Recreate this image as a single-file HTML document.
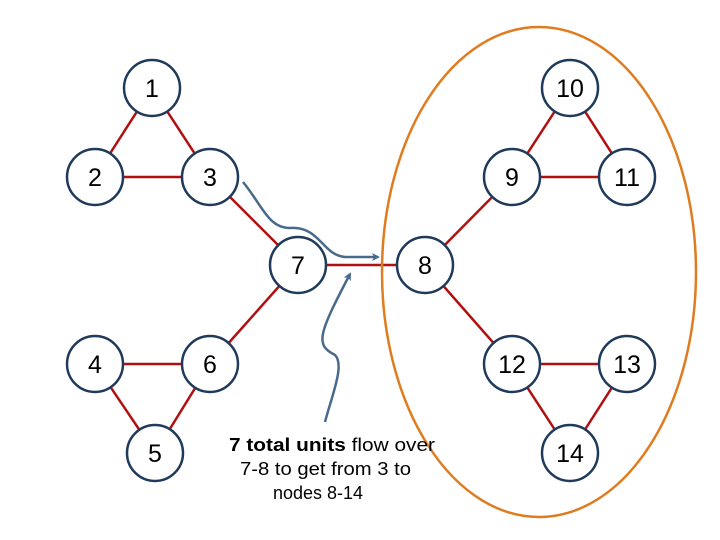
<!DOCTYPE html>
<html><head><meta charset="utf-8"><style>
html,body{margin:0;padding:0;background:#fff;}
svg{display:block;}
text{font-family:"Liberation Sans",sans-serif;}
</style></head><body>
<svg width="720" height="540" viewBox="0 0 720 540" xmlns="http://www.w3.org/2000/svg">
<defs><marker id="ah" markerWidth="8" markerHeight="8" refX="6" refY="4" orient="auto" markerUnits="userSpaceOnUse"><path d="M0,0 L8,4 L0,8 L2,4 Z" fill="#4a6a8c"/></marker></defs>
<g stroke="#b01010" stroke-width="2.5">
<line x1="152" y1="88" x2="95" y2="177"/><line x1="152" y1="88" x2="210" y2="177"/><line x1="95" y1="177" x2="210" y2="177"/>
<line x1="210" y1="177" x2="298" y2="265"/><line x1="298" y1="265" x2="210" y2="364"/><line x1="298" y1="265" x2="425" y2="265"/>
<line x1="95" y1="364" x2="210" y2="364"/><line x1="95" y1="364" x2="155" y2="453"/><line x1="210" y1="364" x2="155" y2="453"/>
<line x1="570" y1="88" x2="512" y2="177"/><line x1="570" y1="88" x2="627" y2="177"/><line x1="512" y1="177" x2="627" y2="177"/>
<line x1="512" y1="177" x2="425" y2="265"/><line x1="425" y1="265" x2="512" y2="364"/>
<line x1="512" y1="364" x2="627" y2="364"/><line x1="512" y1="364" x2="570" y2="453"/><line x1="627" y1="364" x2="570" y2="453"/>
</g>
<ellipse cx="539" cy="272" rx="157" ry="245" fill="none" stroke="#e07c20" stroke-width="2.5"/>
<g fill="#fff" stroke="#1f3a5a" stroke-width="2.5">
<circle cx="152" cy="88" r="28"/><circle cx="570" cy="88" r="28"/>
<circle cx="95" cy="177" r="28"/><circle cx="210" cy="177" r="28"/><circle cx="512" cy="177" r="28"/><circle cx="627" cy="177" r="28"/>
<circle cx="298" cy="265" r="28"/><circle cx="425" cy="265" r="28"/>
<circle cx="95" cy="364" r="28"/><circle cx="210" cy="364" r="28"/><circle cx="512" cy="364" r="28"/><circle cx="627" cy="364" r="28"/>
<circle cx="155" cy="453" r="28"/><circle cx="570" cy="453" r="28"/>
</g>
<g font-size="25" text-anchor="middle" fill="#000">
<text x="152" y="97">1</text><text x="570" y="97">10</text>
<text x="95" y="186">2</text><text x="210" y="186">3</text><text x="512" y="186">9</text><text x="627" y="186">11</text>
<text x="298" y="274">7</text><text x="425" y="274">8</text>
<text x="95" y="373">4</text><text x="210" y="373">6</text><text x="512" y="373">12</text><text x="627" y="373">13</text>
<text x="155" y="462">5</text><text x="570" y="462">14</text>
</g>
<g fill="none" stroke="#4a6a8c" stroke-width="2.5">
<path d="M243,182 C262,205 268,228 290,228 C320,226 322,255 345,257 L378,257" marker-end="url(#ah)"/>
<path d="M325,422 C332,395 345,365 335,355 C315,345 318,335 350,274" marker-end="url(#ah)"/>
</g>
<g font-size="18" fill="#000">
<text x="229" y="451" textLength="206" lengthAdjust="spacingAndGlyphs"><tspan font-weight="bold">7 total units</tspan> flow over</text>
<text x="240" y="475" textLength="171" lengthAdjust="spacingAndGlyphs">7-8 to get from 3 to</text>
<text x="273" y="499" textLength="90" lengthAdjust="spacingAndGlyphs">nodes 8-14</text>
</g>
</svg>
</body></html>
